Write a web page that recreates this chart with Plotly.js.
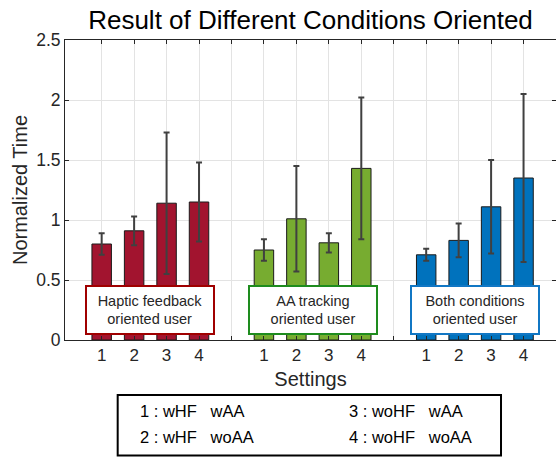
<!DOCTYPE html>
<html>
<head>
<meta charset="utf-8">
<script src="https://cdn.plot.ly/plotly-3.0.1.min.js"></script>
<style>html,body{margin:0;padding:0;background:#fff;}#chart{width:556px;height:457px;}</style>
</head>
<body>
<div id="chart"></div>
<script>
// ---- data ----
const settings = ["1", "2", "3", "4"];
const groups = ["Haptic feedback<br>oriented user", "AA tracking<br>oriented user", "Both conditions<br>oriented user"];
const hapticMean = [0.80, 0.91, 1.14, 1.15];
const hapticErr  = [0.09, 0.12, 0.59, 0.33];
const aaMean     = [0.75, 1.01, 0.81, 1.43];
const aaErr      = [0.09, 0.44, 0.08, 0.59];
const bothMean   = [0.71, 0.83, 1.11, 1.35];
const bothErr    = [0.05, 0.14, 0.39, 0.70];
const legendLines = ["1 : wHF&nbsp;&nbsp; wAA", "2 : wHF&nbsp;&nbsp; woAA", "3 : woHF&nbsp;&nbsp; wAA", "4 : woHF&nbsp;&nbsp; woAA"];
const yTicks = [0, 0.5, 1, 1.5, 2, 2.5];

const barColors = ["#A2142F", "#77AC30", "#0072BD"];
const boxColors = ["#A00000", "#1E8C1E", "#1177C4"];
const means = [hapticMean, aaMean, bothMean];
const errs = [hapticErr, aaErr, bothErr];

const FONT = '"Liberation Sans", Arial, Helvetica, sans-serif';

// group g occupies slots 5g+1 .. 5g+4
const pos = (g, i) => g * 5 + i + 1;

const traces = means.map((m, g) => ({
  type: 'bar',
  x: settings.map((s, i) => pos(g, i)),
  y: m,
  width: 0.6,
  marker: {color: barColors[g], line: {color: '#1a1a1a', width: 1}},
  error_y: {type: 'data', array: errs[g], visible: true, color: '#404040', thickness: 2, width: 3},
  showlegend: false,
  hoverinfo: 'y'
}));

const tickvals = [], ticktext = [];
for (let g = 0; g < 3; g++) {
  settings.forEach((s, i) => { tickvals.push(pos(g, i)); ticktext.push(s); });
  if (g < 2) { tickvals.push(pos(g, 4)); ticktext.push(""); }
}

const annotations = groups.map((t, g) => ({
  text: t, xref: 'x', yref: 'y',
  x: (pos(g, 0) + pos(g, 3)) / 2, y: 0.247,
  showarrow: false,
  font: {family: FONT, size: 14.5, color: '#262626'},
  bgcolor: '#ffffff', bordercolor: boxColors[g], borderwidth: 2, borderpad: 1,
  width: 124, height: 44, align: 'center'
}));

const legX = [0.1487, 0.1487, 0.5743, 0.5743];
const legY = [-0.238, -0.322, -0.238, -0.322];
legendLines.forEach((t, i) => annotations.push({
  text: t, xref: 'paper', yref: 'paper', x: legX[i], y: legY[i],
  xanchor: 'left', yanchor: 'middle', showarrow: false,
  font: {family: FONT, size: 16.5, color: '#000'}
}));

const layout = {
  width: 556, height: 457,
  margin: {l: 65, r: 0, t: 40, b: 117},
  paper_bgcolor: '#fff', plot_bgcolor: '#fff',
  font: {family: FONT, color: '#262626'},
  title: {text: 'Result of Different Conditions Oriented', font: {family: FONT, size: 26, color: '#000'},
          x: 0.5, xref: 'paper', y: 1 - 20 / 457, yref: 'container', yanchor: 'middle'},
  bargap: 0,
  xaxis: {
    range: [-0.13, 15.0], tickmode: 'array', tickvals: tickvals, ticktext: ticktext,
    ticks: 'inside', ticklen: 4, tickwidth: 1, tickcolor: '#262626',
    showline: true, linecolor: '#262626', linewidth: 1, mirror: 'ticks',
    showgrid: true, gridcolor: '#e3e3e3', gridwidth: 1, zeroline: false,
    tickfont: {family: FONT, size: 17, color: '#262626'},
    title: {text: 'Settings', font: {family: FONT, size: 20, color: '#262626'}, standoff: 7},
    fixedrange: true
  },
  yaxis: {
    range: [0, 2.5], tickmode: 'array', tickvals: yTicks, ticktext: yTicks.map(String),
    ticks: 'inside', ticklen: 4, tickwidth: 1, tickcolor: '#262626',
    showline: true, linecolor: '#262626', linewidth: 1, mirror: 'ticks',
    showgrid: true, gridcolor: '#e3e3e3', gridwidth: 1, zeroline: false,
    tickfont: {family: FONT, size: 17.5, color: '#262626'},
    title: {text: 'Normalized Time', font: {family: FONT, size: 20, color: '#262626'}, standoff: 3},
    fixedrange: true
  },
  shapes: [{
    type: 'rect', xref: 'paper', yref: 'paper',
    x0: 0.1073, x1: 0.888, y0: -0.385, y1: -0.1833,
    line: {color: '#000', width: 2}, fillcolor: 'rgba(0,0,0,0)'
  }],
  annotations: annotations
};

Plotly.newPlot('chart', traces, layout, {displayModeBar: false, staticPlot: true});
</script>
</body>
</html>
